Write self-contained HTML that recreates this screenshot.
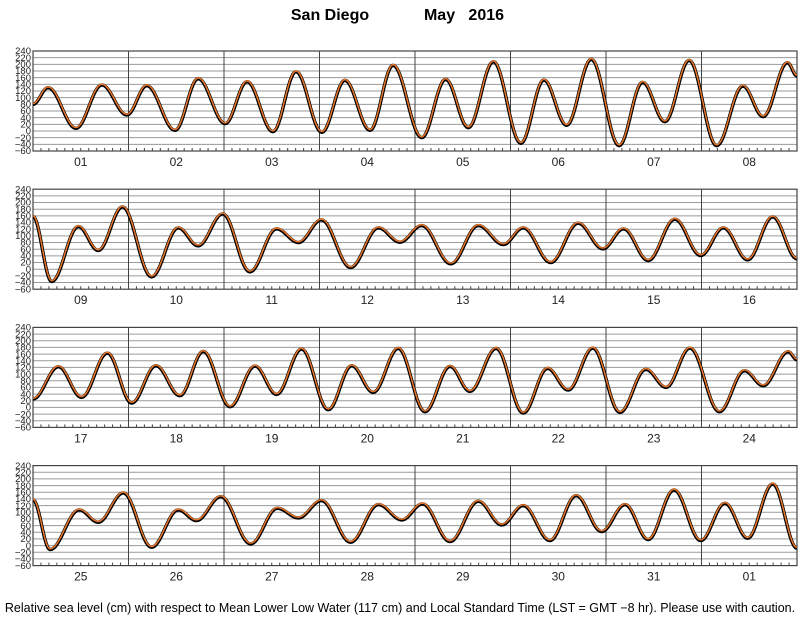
<!DOCTYPE html>
<html><head><meta charset="utf-8"><style>
html,body{margin:0;padding:0;background:#fff;}
svg{display:block;font-family:"Liberation Sans",Arial,sans-serif;}
</style></head><body>
<svg id="chart" width="800" height="618" viewBox="0 0 800 618" xmlns="http://www.w3.org/2000/svg">
<text x="330" y="20" font-size="16" font-weight="bold" text-anchor="middle">San Diego</text>
<text x="464" y="20" font-size="16" font-weight="bold" text-anchor="middle" xml:space="preserve">May   2016</text>
<text x="400" y="612" font-size="12.5" text-anchor="middle">Relative sea level (cm) with respect to Mean Lower Low Water (117 cm) and Local Standard Time (LST = GMT −8 hr). Please use with caution.</text>
<g id="panels"></g>
</svg>
<script>
// Data: day labels per panel, extreme times (hours from panel start) and sea levels (cm)
const dayLabels1 = ["01","02","03","04","05","06","07","08"];
const dayLabels2 = ["09","10","11","12","13","14","15","16"];
const dayLabels3 = ["17","18","19","20","21","22","23","24"];
const dayLabels4 = ["25","26","27","28","29","30","31","01"];
const yTickLabels = [240,220,200,180,160,140,120,100,80,60,40,20,0,-20,-40,-60];

const hours1 = [0,3.8,10.8,17.3,23.6,28.6,35.7,41.5,48.3,53.8,60.3,66.1,72.6,78.4,84.7,90.5,97.7,103.7,109.4,115.7,122.6,128.4,134.1,140.3,147.3,153.2,158.8,164.9,171.8,178.4,183.5,189.6,192];
const levels1 = [80,130,8,138,48,136,2,157,22,148,-2,178,-4,152,2,197,-20,155,10,208,-37,153,17,215,-44,146,28,212,-44,135,43,205,165];
const hours2 = [0,4.7,11.4,16.4,22.5,29.8,36.5,41.5,47.7,54.5,61.2,66.7,72.5,79.8,86.8,92.2,97.7,105,111.9,118.2,123.2,130.1,137,143.2,148.4,154.6,161.3,167.8,173.5,179.6,185.9,192];
const levels2 = [158,-37,128,56,187,-23,124,70,166,-8,121,80,148,5,124,81,131,16,131,74,124,20,138,61,121,26,150,41,124,28,157,31];
const hours3 = [0,6.4,12.2,18.7,24.8,30.9,36.9,42.8,49.5,55.8,61.2,67.5,74.2,80.1,85.5,91.8,98.5,104.8,109.8,116.4,123.2,129.3,134.5,140.7,147.5,154,159.1,165.1,172.5,178.8,183.5,189.8,192];
const levels3 = [25,122,30,163,13,125,35,168,2,124,39,175,-7,125,45,177,-13,123,48,177,-17,117,52,178,-15,114,60,178,-13,110,65,167,143];
const hours4 = [0,4.3,11.6,16.4,22.7,29.8,36.5,41.1,47.2,54.7,61.4,66.7,72.5,79.8,86.8,92.7,97.9,104.8,111.9,117.8,123.2,129.9,136.5,142.9,148.8,154.6,161.1,167.8,173.9,179.6,185.9,192];
const levels4 = [137,-12,107,70,158,-5,107,75,147,5,112,83,135,10,123,77,125,12,133,62,120,15,150,42,123,18,167,15,127,22,185,-8];

const panelDefs = [
  {days: dayLabels1, hours: hours1, levels: levels1},
  {days: dayLabels2, hours: hours2, levels: levels2},
  {days: dayLabels3, hours: hours3, levels: levels3},
  {days: dayLabels4, hours: hours4, levels: levels4}
];

const NS = "http://www.w3.org/2000/svg";
const X0 = 33, X1 = 797, PH = 100, TOP0 = 51, GAP = 138.2;
const YMIN = -60, YMAX = 240, HOURS = 192;
const root = document.getElementById("panels");

function mk(tag, attrs, parent){
  const e = document.createElementNS(NS, tag);
  for (const k in attrs) e.setAttribute(k, attrs[k]);
  parent.appendChild(e);
  return e;
}

function curvePath(hours, levels, xs, ys){
  let d = "";
  for (let i = 0; i < hours.length - 1; i++){
    const h0 = hours[i], h1 = hours[i+1], v0 = levels[i], v1 = levels[i+1];
    const n = 16;
    for (let k = (i === 0 ? 0 : 1); k <= n; k++){
      const t = k / n;
      const h = h0 + (h1 - h0) * t;
      const v = v0 + (v1 - v0) * (1 - Math.cos(Math.PI * t)) / 2;
      d += (d === "" ? "M" : "L") + xs(h).toFixed(2) + "," + ys(v).toFixed(2);
    }
  }
  return d;
}

panelDefs.forEach((p, pi) => {
  const top = TOP0 + pi * GAP;
  const xs = h => X0 + (h / HOURS) * (X1 - X0);
  const ys = v => top + (YMAX - v) / (YMAX - YMIN) * PH;
  const g = mk("g", {}, root);
  
  

  yTickLabels.forEach(v => {
    const y = ys(v);
    if (v !== YMAX && v !== YMIN) {
      const gl = mk("line", {x1: X0, x2: X1, y1: y, y2: y, stroke: "#9a9a9a", "stroke-width": 1}, g);
      
      
    }
    const lbl = mk("text", {x: 31, y: y + 3.2, "font-size": 9.5, "text-anchor": "end", fill: "#222"}, g);
    
    
    lbl.textContent = v < 0 ? "\u2212" + Math.abs(v) : String(v);
  });

  for (let h = 2; h < HOURS; h += 2) {
    if (h % 24 === 0) continue;
    const tk = mk("line", {x1: xs(h), x2: xs(h), y1: top + PH, y2: top + PH - 3, stroke: "#444", "stroke-width": 1}, g);
    
    
  }

  p.days.forEach((d, di) => {
    if (di > 0) {
      const dv = mk("line", {x1: xs(di * 24), x2: xs(di * 24), y1: top, y2: top + PH, stroke: "#444", "stroke-width": 1}, g);
      
      
    }
    const dl = mk("text", {x: xs(di * 24 + 12), y: top + PH + 15, "font-size": 12, "text-anchor": "middle", fill: "#222"}, g);
    
    
    dl.textContent = d;
  });

  const fr = mk("rect", {x: X0, y: top, width: X1 - X0, height: PH, fill: "none", stroke: "#444", "stroke-width": 1.2}, g);
  
  

  const cp = mk("clipPath", {id: "clip" + pi}, g);
  mk("rect", {x: X0, y: top - 2, width: X1 - X0, height: PH + 4}, cp);
  const d = curvePath(p.hours, p.levels, xs, ys);
  const obs = mk("path", {d: d, fill: "none", stroke: "#000", "stroke-width": 3.4, "stroke-linejoin": "round", "clip-path": "url(#clip" + pi + ")"}, g);
  
  
  const pred = mk("path", {d: d, fill: "none", stroke: "#e8762a", "stroke-width": 1.5, "stroke-linejoin": "round", "clip-path": "url(#clip" + pi + ")", transform: "translate(0,-0.8)"}, g);
  
  
});
</script>
</body></html>
